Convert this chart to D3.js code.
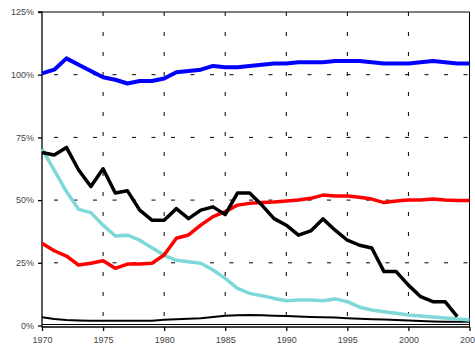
<!DOCTYPE html>
<html><head><meta charset="utf-8">
<script src="https://cdn.jsdelivr.net/npm/d3@7"></script>
<style>body{margin:0;background:#fff}svg{display:block}</style>
</head><body>
<svg id="c" width="475" height="345"></svg>
<script>
const years = d3.range(1970, 2006);
const blue = [100.5,102,106.5,104,101.5,99,98,96.5,97.5,97.5,98.5,101,101.5,102,103.5,103,103,103.5,104,104.5,104.5,105,105,105,105.5,105.5,105.5,105,104.5,104.5,104.5,105,105.5,105,104.5,104.5];
const blackThick = [69,68,71,62,55.4,62.5,52.8,53.7,46,42,42,46.6,42.6,46,47.3,44.2,52.8,52.8,48,42.6,40,36,37.7,42.5,38,34,32,30.9,21.5,21.5,16.1,11.5,9.5,9.5,3.5];
const cyan = [70.4,62,53.4,46.3,45,40,35.7,36,34,31,28,26,25.4,24.8,22.1,18.8,14.8,12.8,11.9,10.8,9.9,10.2,10.2,9.9,10.6,9.5,7.3,6.2,5.5,4.9,4.2,3.8,3.4,3,2.6,2.2];
const red = [32.8,29.8,27.7,24.1,24.8,25.8,22.8,24.5,24.5,24.8,28.1,34.8,36.1,40,43.4,45.4,48,48.7,49,49.2,49.6,50,50.7,52,51.6,51.6,51.1,50.4,49,49.6,50,50,50.4,50,49.8,49.8];
const blackThin = [3.3,2.6,2.2,2,1.9,1.9,1.9,1.9,1.9,1.9,2.3,2.5,2.7,2.9,3.4,3.9,4.1,4.2,4.1,3.9,3.8,3.6,3.4,3.3,3.2,2.9,2.7,2.5,2.4,2.2,2.0,1.8,1.6,1.5,1.5,1.5];
const yTicks = [0,25,50,75,100,125];
const xTicks = [1970,1975,1980,1985,1990,1995,2000,2005];

const svg = d3.select("#c");
const x = d3.scaleLinear().domain([1970,2005]).range([42,469.5]);
const y = d3.scaleLinear().domain([0,125]).range([325.5,12]);

// dashed grid
const g = svg.append("g");
g.selectAll("line.hg").data(yTicks.filter(v=>v>0&&v<125)).enter().append("line")
  .attr("x1",x(1970)).attr("x2",x(2005)).attr("y1",d=>y(d)).attr("y2",d=>y(d))
  .attr("stroke","#000").attr("stroke-width",1).attr("stroke-dasharray","4,15.5").attr("stroke-dashoffset",-12);
g.selectAll("line.vg").data(xTicks.filter(v=>v>1970&&v<2005)).enter().append("line")
  .attr("x1",d=>x(d)).attr("x2",d=>x(d)).attr("y1",y(125)).attr("y2",y(0))
  .attr("stroke","#000").attr("stroke-width",1).attr("stroke-dasharray","4,16");

// frame
svg.append("line").attr("x1",x(1970)).attr("x2",x(2005)).attr("y1",y(125)).attr("y2",y(125)).attr("stroke","#000").attr("stroke-width",1);
svg.append("line").attr("x1",x(2005)).attr("x2",x(2005)).attr("y1",y(125)).attr("y2",y(0)+2).attr("stroke","#000").attr("stroke-width",1);
svg.append("line").attr("x1",x(1970)).attr("x2",x(2005)).attr("y1",y(0)-1).attr("y2",y(0)-1).attr("stroke","#000").attr("stroke-width",1);

// axes
const yAxis = d3.axisLeft(y).tickValues(yTicks).tickFormat(d=>d+"%").tickSize(4).tickPadding(4);
const ya = svg.append("g").attr("transform",`translate(${x(1970)},0)`).call(yAxis);
const xAxis = d3.axisBottom(x).tickValues(xTicks).tickFormat(d3.format("d")).tickSize(4).tickPadding(6);
const xa = svg.append("g").attr("transform",`translate(0,${y(0)+1.5})`).call(xAxis);
[ya,xa].forEach(a=>{
  a.select(".domain").attr("stroke","#000").attr("stroke-width",1.3);
  a.selectAll(".tick line").attr("stroke","#000").attr("stroke-width",1.3);
  a.selectAll("text").attr("fill","#444").attr("font-family","Liberation Sans, Arial, sans-serif").attr("font-size",9);
});
ya.select(".domain").attr("d",`M-4,${y(125)}H0V${y(0)+2}`);
xa.select(".domain").attr("d",`M${x(1970)},0H${x(2005)}`);

// series
const line = d3.line().x((d,i)=>x(years[i])).y(d=>y(d));
const series = [
  {v:blackThin, c:"#000", w:2},
  {v:cyan, c:"#7fd8d8", w:3.5},
  {v:red, c:"#ff0000", w:3.5},
  {v:blackThick, c:"#000", w:3.5},
  {v:blue, c:"#0000ff", w:4}
];
series.forEach(s=>{
  svg.append("path").datum(s.v).attr("d",line).attr("fill","none")
    .attr("stroke",s.c).attr("stroke-width",s.w).attr("stroke-linejoin","round");
});
</script>
</body></html>
